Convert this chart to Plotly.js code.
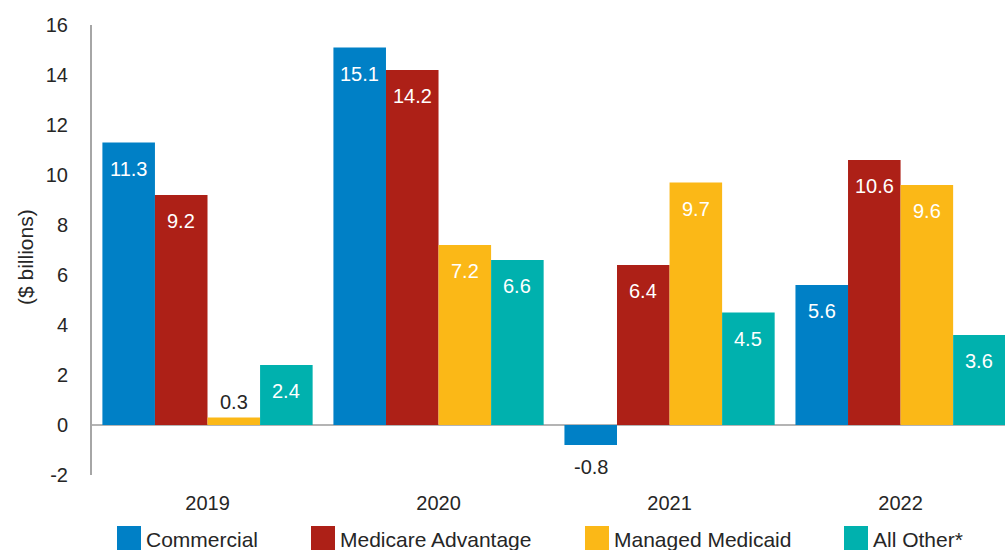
<!DOCTYPE html>
<html>
<head>
<meta charset="utf-8">
<script src="https://cdn.plot.ly/plotly-3.0.1.min.js"></script>
<style>html,body{margin:0;padding:0;background:#fff;}#chart{width:1005px;height:550px;}</style>
</head>
<body>
<div id="chart"></div>
<script>
// ---- data ----
const years = ['2019', '2020', '2021', '2022'];
const seriesNames = ['Commercial', 'Medicare Advantage', 'Managed Medicaid', 'All Other*'];
const commercial = [11.3, 15.1, -0.8, 5.6];
const medicareAdvantage = [9.2, 14.2, 6.4, 10.6];
const managedMedicaid = [0.3, 7.2, 9.7, 9.6];
const allOther = [2.4, 6.6, 4.5, 3.6];
const yTickVals = [-2, 0, 2, 4, 6, 8, 10, 12, 14, 16];
const yAxisTitle = '($ billions)';

// ---- style ----
const colors = ['#0080C6', '#AD2017', '#FBB817', '#00B1AE'];
const FONT = 'Liberation Sans, Arial, sans-serif';
const TEXT = '#262626';
const seriesValues = [commercial, medicareAdvantage, managedMedicaid, allOther];
const bargap = 0.09;
const margin = {l: 92, r: 0, t: 25, b: 75};
const W = 1005, H = 550;
const plotW = W - margin.l - margin.r;
const plotH = H - margin.t - margin.b;
const xRange = [-0.5, 3.452];

const traces = seriesNames.map((name, i) => ({
  type: 'bar',
  name: name,
  x: years,
  y: seriesValues[i],
  marker: {color: colors[i], line: {width: 0}},
  hoverinfo: 'x+y+name',
  showlegend: false
}));

// value labels
const annotations = [];
const barFrac = (1 - bargap) / seriesNames.length;
seriesValues.forEach((vals, i) => {
  vals.forEach((v, j) => {
    let yshift, color;
    if (v < 0) { yshift = -22; color = TEXT; }
    else if (v < 1) { yshift = 16; color = TEXT; }
    else { yshift = -26; color = '#ffffff'; }
    annotations.push({
      x: j + (i - (seriesNames.length - 1) / 2) * barFrac,
      y: v, xref: 'x', yref: 'y',
      text: v.toFixed(1),
      showarrow: false,
      xanchor: 'center', yanchor: 'middle',
      yshift: yshift,
      font: {family: FONT, size: 20, color: color}
    });
  });
});

// custom legend (large square swatches)
const legendPx = [117, 311, 585, 844];
const shapes = [];
const toPaperX = px => (px - margin.l) / plotW;
const toPaperY = py => (H - margin.b - py) / plotH;
seriesNames.forEach((name, i) => {
  shapes.push({
    type: 'rect', xref: 'paper', yref: 'paper',
    x0: toPaperX(legendPx[i]), x1: toPaperX(legendPx[i] + 24),
    y0: toPaperY(551), y1: toPaperY(526),
    fillcolor: colors[i], line: {width: 0}
  });
  annotations.push({
    xref: 'paper', yref: 'paper',
    x: toPaperX(legendPx[i] + 27), y: toPaperY(539),
    xanchor: 'left', yanchor: 'middle',
    text: name, showarrow: false,
    font: {family: FONT, size: 21, color: TEXT}
  });
});

// y-axis title placed like the reference (slightly below plot centre)
annotations.push({
  xref: 'paper', yref: 'paper',
  x: toPaperX(25), y: toPaperY(257),
  xanchor: 'center', yanchor: 'middle',
  textangle: -90, text: yAxisTitle, showarrow: false,
  font: {family: FONT, size: 21, color: TEXT}
});

const layout = {
  width: W, height: H,
  margin: margin,
  paper_bgcolor: '#ffffff', plot_bgcolor: '#ffffff',
  font: {family: FONT, color: TEXT, size: 20},
  barmode: 'group', bargap: bargap, bargroupgap: 0,
  showlegend: false,
  xaxis: {
    type: 'category', range: xRange,
    showgrid: false, zeroline: false, showline: false, ticks: '',
    tickfont: {family: FONT, size: 20, color: TEXT},
    ticklabelstandoff: 14, fixedrange: true
  },
  yaxis: {
    range: [-2, 16], tickvals: yTickVals, ticktext: yTickVals.map(String),
    showgrid: false,
    zeroline: true, zerolinecolor: '#B4B4B4', zerolinewidth: 2,
    showline: true, linecolor: '#A6A6A6', linewidth: 2, ticks: '',
    tickfont: {family: FONT, size: 20, color: TEXT},
    ticklabelstandoff: 18,
    fixedrange: true
  },
  annotations: annotations,
  shapes: shapes
};

Plotly.newPlot('chart', traces, layout, {displayModeBar: false, staticPlot: true});
</script>
</body>
</html>
